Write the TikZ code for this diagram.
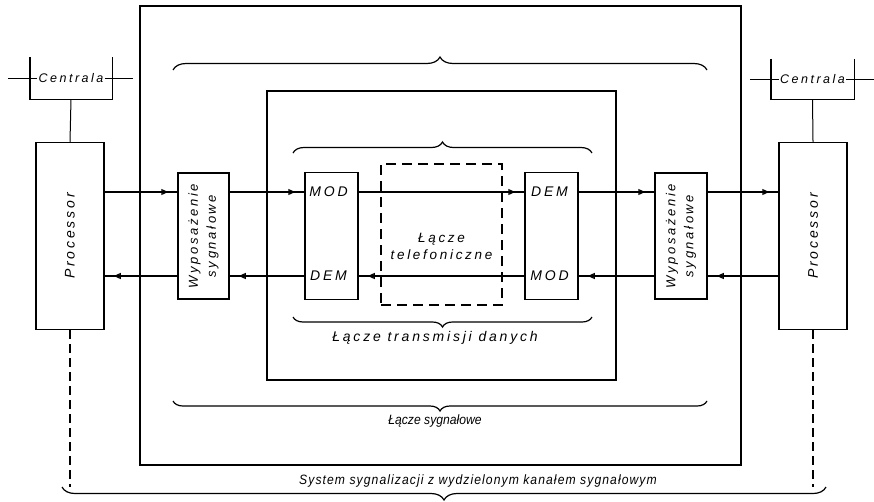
\documentclass[tikz,border=0pt]{standalone}
\usepackage{fontspec}
\setmainfont{Liberation Sans}
\newfontfamily\litera[LetterSpace=20]{Liberation Sans}
\newfontfamily\literaw[FakeStretch=0.9]{Liberation Sans}
\newfontfamily\literas[FakeStretch=0.9, LetterSpace=8]{Liberation Sans}
\usetikzlibrary{arrows.meta,decorations.pathreplacing,decorations.markings}

% tory sygnalowe: gorny i dolny (wzgledem srodka blokow)
\def\gora{44pt}
\def\dol{-40pt}

\tikzset{
	blok/.style={draw, line width=1.5pt, inner sep=0pt},
	napis/.style={font=\litera\itshape\fontsize{14}{18}\selectfont, inner sep=1pt, align=center},
	sig/.style={line width=1.7pt, postaction={decorate},
		decoration={markings, mark=at position -9pt with {\arrow{Triangle[open,length=7pt,width=6pt,line width=1.1pt]}}}},
	klamra/.style={decorate, decoration={brace, amplitude=#1}, line width=1.2pt},
}

\begin{document}
\begin{tikzpicture}[x=1pt, y=-1pt]
		%%%%% START %%%%%
		\useasboundingbox (0,0) rectangle (874,501);
		
		\draw[line width=2pt] (140,6) rectangle (741,465);
		\draw[line width=1.2pt] (267,91) rectangle (616,380);
		
		% klamry
		\draw[klamra=13pt] (173,70) -- (707,70);
		\draw[klamra=11pt] (293,153) -- (592,153);
		\draw[klamra=10pt] (592,317) -- (293,317);
		\draw[klamra=10pt] (707,401) -- (173,401);
		\draw[klamra=13pt] (826,487) -- (62,487);
		
		% centrale
		\node[minimum width=82pt, minimum height=42pt] (centL) at (71,78) {};
		\node[napis, font=\litera\itshape\fontsize{12.5}{15}\selectfont] (centLtxt) at (centL) {Centrala};
		\draw[line width=1.4pt] (centL.north west) -- (centL.south west) -- (centL.south east) -- (centL.north east);
		\draw[line width=1pt] ([xshift=-22pt]centL.west) -- (centLtxt.west);
		\draw[line width=1pt] (centLtxt.east) -- ([xshift=21pt]centL.east);
		
		\node[minimum width=83pt, minimum height=40pt] (centR) at (812.5,79) {};
		\node[napis, font=\litera\itshape\fontsize{12.5}{15}\selectfont] (centRtxt) at (centR) {Centrala};
		\draw[line width=1.4pt] (centR.north west) -- (centR.south west) -- (centR.south east) -- (centR.north east);
		\draw[line width=1pt] ([xshift=-21pt]centR.west) -- (centRtxt.west);
		\draw[line width=1pt] (centRtxt.east) -- ([xshift=20pt]centR.east);
		
		% procesory
		\node[blok, minimum width=68pt, minimum height=187pt] (procL) at (70,236) {};
		\node[napis, rotate=90] (procLtxt) at (procL) {Processor};
		\node[blok, minimum width=68pt, minimum height=187pt] (procR) at (813,236) {};
		\node[napis, rotate=90] (procRtxt) at (procR) {Processor};
		
		\draw[line width=1pt] (centL.south) -- (procL.north);
		\draw[line width=1pt] (centR.south) -- (procR.north);
		\draw[line width=1.1pt, dash pattern=on 9pt off 5pt] (procL.south) -- ++(0,157);
		\draw[line width=1.1pt, dash pattern=on 9pt off 5pt] (procR.south) -- ++(0,157);
		
		% wyposazenie sygnalowe
		\node[blok, minimum width=51pt, minimum height=126pt] (wypL) at (203.5,236) {};
		\node[napis, rotate=90, font=\litera\itshape\fontsize{13}{18}\selectfont] (wypLtxt) at (wypL) {Wyposażenie\\sygnałowe};
		\node[blok, minimum width=52pt, minimum height=126pt] (wypR) at (681,236) {};
		\node[napis, rotate=90, font=\litera\itshape\fontsize{13}{18}\selectfont] (wypRtxt) at (wypR) {Wyposażenie\\sygnałowe};
		
		% modemy
		\node[blok, minimum width=53pt, minimum height=127pt] (modL) at (331.5,236) {};
		\node[napis] (modLa) at ([xshift=-3pt, yshift=\gora]modL.center) {MOD};
		\node[napis] (modLb) at ([xshift=-3pt, yshift=\dol]modL.center) {DEM};
		\node[blok, minimum width=53pt, minimum height=127pt] (modR) at (551.5,236) {};
		\node[napis] (modRa) at ([xshift=-2pt, yshift=\gora]modR.center) {DEM};
		\node[napis] (modRb) at ([xshift=-2pt, yshift=\dol]modR.center) {MOD};
		
		\node[draw, line width=1.4pt, dash pattern=on 10pt off 6pt, minimum width=121pt, minimum height=141pt] (tel) at (441.5,234.5) {};
		\node[napis, font=\litera\itshape\fontsize{13.5}{17}\selectfont] (teltxt) at ([yshift=-12pt]tel.center) {Łącze\\telefoniczne};
		
		% tory sygnalowe
		\draw[sig] ([yshift=\gora]procL.east) -- ([yshift=\gora]wypL.west);
		\draw[sig] ([yshift=\gora]wypL.east) -- ([yshift=\gora]modL.west);
		\draw[sig] ([yshift=\gora]modL.east) -- ([yshift=\gora]modR.west);
		\draw[sig] ([yshift=\gora]modR.east) -- ([yshift=\gora]wypR.west);
		\draw[sig] ([yshift=\gora]wypR.east) -- ([yshift=\gora]procR.west);
		
		\draw[sig] ([yshift=\dol]procR.west) -- ([yshift=\dol]wypR.east);
		\draw[sig] ([yshift=\dol]wypR.west) -- ([yshift=\dol]modR.east);
		\draw[sig] ([yshift=\dol]modR.west) -- ([yshift=\dol]modL.east);
		\draw[sig] ([yshift=\dol]modL.west) -- ([yshift=\dol]wypL.east);
		\draw[sig] ([yshift=\dol]wypL.west) -- ([yshift=\dol]procL.east);
		
		% podpisy
		\node[napis] (l1) at (435,338) {Łącze transmisji danych};
		\node[napis, font=\literaw\itshape\fontsize{13.5}{16}\selectfont] (l2) at (435,421) {Łącze sygnałowe};
		\node[napis, font=\literas\itshape\fontsize{13.5}{16}\selectfont] (l3) at (478,481) {System sygnalizacji z wydzielonym kanałem sygnałowym};
		
		%%%%% END %%%%%
	\end{tikzpicture}
\end{document}
